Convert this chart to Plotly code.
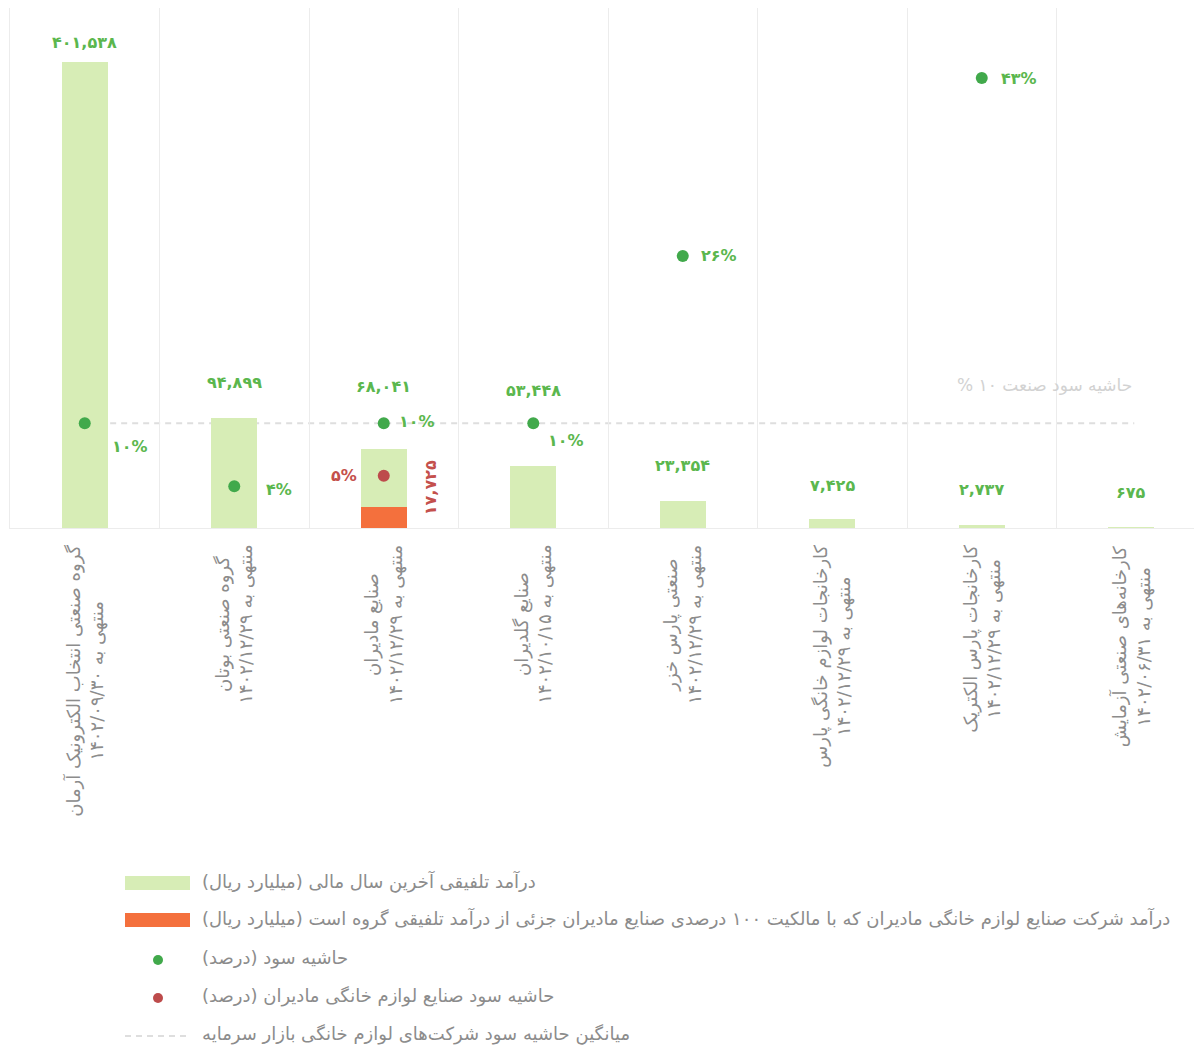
import plotly.graph_objects as go

# ---------------- data ----------------
company_names = [
    "گروه صنعتی انتخاب الکترونیک آرمان",
    "گروه صنعتی بوتان",
    "صنایع مادیران",
    "صنایع گلدیران",
    "صنعتی پارس خزر",
    "کارخانجات لوازم خانگی پارس",
    "کارخانجات پارس الکتریک",
    "کارخانه‌های صنعتی آزمایش",
]
period_end = [
    "۱۴۰۲/۰۹/۳۰",
    "۱۴۰۲/۱۲/۲۹",
    "۱۴۰۲/۱۲/۲۹",
    "۱۴۰۲/۱۰/۱۵",
    "۱۴۰۲/۱۲/۲۹",
    "۱۴۰۲/۱۲/۲۹",
    "۱۴۰۲/۱۲/۲۹",
    "۱۴۰۲/۰۶/۳۱",
]
revenue = [401538, 94899, 68041, 53448, 23354, 7425, 2737, 675]          # billion rials
madiran_sub_revenue = [None, None, 17725, None, None, None, None, None]  # billion rials
profit_margin = [10, 4, 10, 10, 26, None, 43, None]                      # percent
madiran_sub_margin = [None, None, 5, None, None, None, None, None]       # percent
industry_avg_margin = 10                                                 # percent

legend_texts = [
    "درآمد تلفیقی آخرین سال مالی (میلیارد ریال)",
    "درآمد شرکت صنایع لوازم خانگی مادیران که با مالکیت ۱۰۰ درصدی صنایع مادیران جزئی از درآمد تلفیقی گروه است (میلیارد ریال)",
    "حاشیه سود (درصد)",
    "حاشیه سود صنایع لوازم خانگی مادیران (درصد)",
    "میانگین حاشیه سود شرکت‌های لوازم خانگی بازار سرمایه",
]
avg_label = "حاشیه سود صنعت ۱۰ %"

# ---------------- helpers / styles ----------------
FA = str.maketrans("0123456789", "۰۱۲۳۴۵۶۷۸۹")
RLM = "\u200f"


def fa_num(v):
    return f"{v:,}".translate(FA)


def rtl(s):
    return RLM + s + RLM


OFF = 8                      # page body margin
W, H = 1202 - OFF, 1049 - OFF
PL, PR, PT, PB = 2, W, 0, 520   # plot area in figure pixels


def py(p):  # reference pixel y -> paper y
    return (PB - (p - OFF)) / (PB - PT)


def px(p):  # reference pixel x -> paper x
    return ((p - OFF) - PL) / (PR - PL)


C_BAR = "#d7edb6"
C_ORANGE = "#f4703d"
C_GREEN_DOT = "#41a94b"
C_RED_DOT = "#bd4b4b"
C_GREEN_TXT = "#5bb74e"
C_RED_TXT = "#c4504c"
C_GRAY_TXT = "#8c8c8c"
C_GRID = "#ececec"
FONT = "DejaVu Sans"

cats = [f"{n}|{d}" for n, d in zip(company_names, period_end)]

fig = go.Figure()

fig.add_trace(go.Bar(
    x=cats, y=revenue, marker=dict(color=C_BAR, line=dict(width=0)),
    width=0.31, showlegend=False, hoverinfo="y",
))
fig.add_trace(go.Bar(
    x=cats, y=madiran_sub_revenue, marker=dict(color=C_ORANGE, line=dict(width=0)),
    width=0.31, showlegend=False, hoverinfo="y",
))
fig.add_trace(go.Scatter(
    x=cats, y=profit_margin, yaxis="y2", mode="markers",
    marker=dict(color=C_GREEN_DOT, size=12), showlegend=False,
))
fig.add_trace(go.Scatter(
    x=cats, y=madiran_sub_margin, yaxis="y2", mode="markers",
    marker=dict(color=C_RED_DOT, size=12), showlegend=False,
))

shapes = []
annotations = []

# industry average dashed line
shapes.append(dict(type="line", xref="x", yref="y2", x0=0.17, x1=7.02,
                   y0=industry_avg_margin, y1=industry_avg_margin,
                   line=dict(color="#dedede", width=2, dash="6px,5px"), layer="below"))
annotations.append(dict(xref="x", yref="y2", x=7.02, y=industry_avg_margin,
                        yshift=38, xanchor="right", yanchor="middle", showarrow=False,
                        text=rtl(avg_label), font=dict(family=FONT, size=17, color="#d2d2d2")))

# revenue value labels
label_shift = [20, 35, 63, 75, 35, 34, 35, 35]
for c, v, s in zip(cats, revenue, label_shift):
    annotations.append(dict(x=c, y=v, yshift=s, xanchor="center", yanchor="middle",
                            showarrow=False, text=fa_num(v),
                            font=dict(family=FONT, size=16, color=C_GREEN_TXT, weight="bold")))

# madiran subsidiary revenue label (vertical, red)
for c, v in zip(cats, madiran_sub_revenue):
    if v is not None:
        annotations.append(dict(x=c, y=v, xshift=47, yshift=20, textangle=-90,
                                xanchor="center", yanchor="middle", showarrow=False,
                                text=fa_num(v),
                                font=dict(family=FONT, size=16, color=C_RED_TXT, weight="bold")))

# margin labels
margin_dx = [45, 45, 33, 33, 36, 0, 37, 0]
margin_dy = [-23, -3, 2, -17, 0, 0, 0, 0]
for c, m, dx, dy in zip(cats, profit_margin, margin_dx, margin_dy):
    if m is not None:
        annotations.append(dict(x=c, y=m, yref="y2", xshift=dx, yshift=dy,
                                xanchor="center", yanchor="middle", showarrow=False,
                                text=fa_num(m) + "%",
                                font=dict(family=FONT, size=16, color=C_GREEN_TXT, weight="bold")))
for c, m in zip(cats, madiran_sub_margin):
    if m is not None:
        annotations.append(dict(x=c, y=m, yref="y2", xshift=-40, yshift=0,
                                xanchor="center", yanchor="middle", showarrow=False,
                                text=fa_num(m) + "%",
                                font=dict(family=FONT, size=16, color=C_RED_TXT, weight="bold")))

# category labels (rotated, two centred lines)
for c, n, d in zip(cats, company_names, period_end):
    annotations.append(dict(x=c, y=py(543), yref="paper", xanchor="center", yanchor="top",
                            textangle=-90, align="center", showarrow=False,
                            text=rtl(n) + "<br>" + rtl("منتهی به " + d),
                            font=dict(family=FONT, size=18, color=C_GRAY_TXT)))

# manual legend
leg_rows = [883, 920, 960, 998, 1036]
shapes.append(dict(type="rect", xref="paper", yref="paper",
                   x0=px(125), x1=px(190), y0=py(876), y1=py(890),
                   fillcolor=C_BAR, line=dict(width=0)))
shapes.append(dict(type="rect", xref="paper", yref="paper",
                   x0=px(125), x1=px(190), y0=py(913), y1=py(927),
                   fillcolor=C_ORANGE, line=dict(width=0)))
shapes.append(dict(type="circle", xref="paper", yref="paper",
                   x0=px(153), x1=px(163), y0=py(965), y1=py(955),
                   fillcolor=C_GREEN_DOT, line=dict(width=0)))
shapes.append(dict(type="circle", xref="paper", yref="paper",
                   x0=px(153), x1=px(163), y0=py(1003), y1=py(993),
                   fillcolor=C_RED_DOT, line=dict(width=0)))
shapes.append(dict(type="line", xref="paper", yref="paper",
                   x0=px(125), x1=px(190), y0=py(1036), y1=py(1036),
                   line=dict(color="#dedede", width=2, dash="6px,5px")))
for t, r in zip(legend_texts, leg_rows):
    annotations.append(dict(xref="paper", yref="paper", x=px(200), y=py(r - 2),
                            xanchor="left", yanchor="middle", showarrow=False,
                            text=rtl(t), font=dict(family=FONT, size=18, color=C_GRAY_TXT)))

fig.update_layout(
    width=W, height=H,
    margin=dict(l=PL, r=W - PR, t=PT, b=H - PB, pad=0),
    paper_bgcolor="white", plot_bgcolor="white",
    barmode="overlay", bargap=0,
    font=dict(family=FONT, color=C_GRAY_TXT),
    xaxis=dict(type="category", tickson="boundaries", showgrid=True, gridcolor=C_GRID,
               gridwidth=1, showticklabels=False, ticks="", showline=True, mirror=True,
               linecolor=C_GRID, linewidth=1, range=[-0.5, 7.473], fixedrange=True),
    yaxis=dict(range=[0, (PB - PT) / (PB - (62 - OFF)) * revenue[0]], showgrid=False,
               showticklabels=False, zeroline=False, showline=True, mirror=True,
               linecolor=C_GRID, ticks=""),
    yaxis2=dict(range=[0, (PB - PT) / (PB - (78 - OFF)) * 43], overlaying="y", side="right",
                showgrid=False, showticklabels=False, zeroline=False, showline=False, ticks=""),
    shapes=shapes, annotations=annotations,
    showlegend=False,
)

fig.write_html("out.html")
